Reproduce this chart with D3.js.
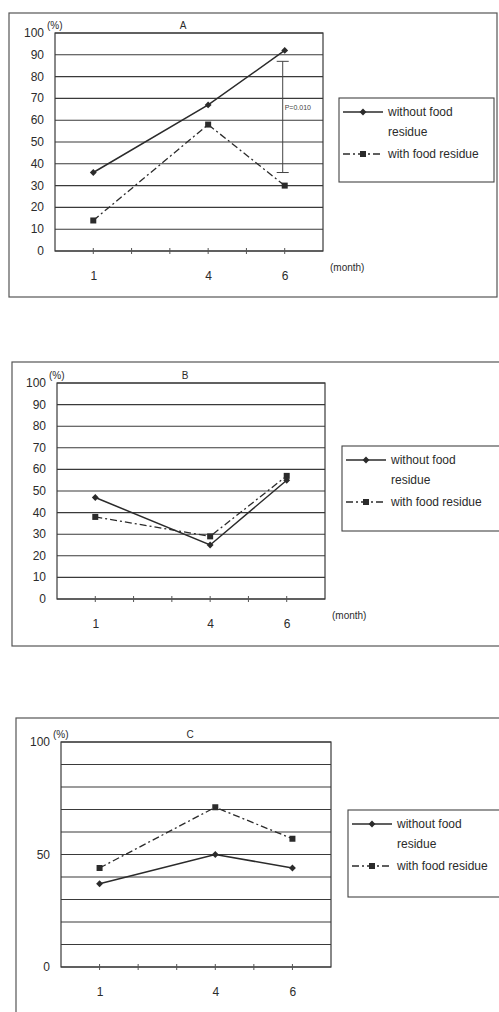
<!DOCTYPE html>
<html>
<head>
<meta charset="utf-8">
<script src="https://cdn.jsdelivr.net/npm/d3@7"></script>
<style>
  body { margin: 0; background: #fff; }
  svg { display: block; font-family: "Liberation Sans", Arial, sans-serif; }
</style>
</head>
<body>
<script>
// data
const months = [1, 2, 3, 4, 5, 6];
const monthLabels = ["1", "", "", "4", "", "6"];
const sampleMonths = [1, 4, 6];

const aWithout = [36, 67, 92];
const aWith = [14, 58, 30];
const bWithout = [47, 25, 55];
const bWith = [38, 29, 57];
const cWithout = [37, 50, 44];
const cWith = [44, 71, 57];

const gridTicks = [0, 10, 20, 30, 40, 50, 60, 70, 80, 90, 100];
const labelTicksC = [0, 50, 100];
const seriesNames = ["without food residue", "with food residue"];
const legendLines = [["without food", "residue"], ["with food residue"]];
const pValueA = { label: "P=0.010", month: 6, from: 36, to: 87 };

const width = 499, height = 1012;
const ink = "#2b2b2b";

const svg = d3.select("body").append("svg")
  .attr("width", width)
  .attr("height", height);

const panels = [
  { title: "A", without: aWithout, withRes: aWith, labels: gridTicks, monthText: true,
    frame: {x: 9, y: 13, w: 488, h: 284}, plot: {l: 55, t: 33, r: 323, b: 251},
    legend: {x: 339, y: 98, w: 155, h: 84}, pValue: pValueA },
  { title: "B", without: bWithout, withRes: bWith, labels: gridTicks, monthText: true,
    frame: {x: 12, y: 362, w: 495, h: 284}, plot: {l: 57, t: 383, r: 325, b: 599},
    legend: {x: 342, y: 446, w: 165, h: 85} },
  { title: "C", without: cWithout, withRes: cWith, labels: labelTicksC, monthText: false,
    frame: {x: 16, y: 718, w: 495, h: 320}, plot: {l: 61, t: 742, r: 331, b: 967},
    legend: {x: 348, y: 810, w: 160, h: 87} }
];

function marker(g, type, x, y) {
  if (type === 0) {
    g.append("path")
      .attr("d", d3.symbol(d3.symbolDiamond2, 30)())
      .attr("transform", `translate(${x},${y})`)
      .attr("fill", ink);
  } else {
    g.append("rect")
      .attr("x", x - 3).attr("y", y - 3)
      .attr("width", 6).attr("height", 6)
      .attr("fill", ink);
  }
}

panels.forEach(p => {
  const g = svg.append("g");
  const pl = p.plot;

  // outer frame
  g.append("rect")
    .attr("x", p.frame.x).attr("y", p.frame.y)
    .attr("width", p.frame.w).attr("height", p.frame.h)
    .attr("fill", "none").attr("stroke", "#555").attr("stroke-width", 1.2);

  const x = d3.scaleLinear().domain([0, 7]).range([pl.l, pl.r]);
  const y = d3.scaleLinear().domain([0, 100]).range([pl.b, pl.t]);

  // grid
  g.append("g").selectAll("line")
    .data(gridTicks)
    .join("line")
    .attr("x1", pl.l).attr("x2", pl.r)
    .attr("y1", d => y(d)).attr("y2", d => y(d))
    .attr("stroke", "#3a3a3a").attr("stroke-width", 1.1);

  g.append("rect")
    .attr("x", pl.l).attr("y", pl.t)
    .attr("width", pl.r - pl.l).attr("height", pl.b - pl.t)
    .attr("fill", "none").attr("stroke", "#3a3a3a").attr("stroke-width", 1.2);

  // y labels
  g.append("g").selectAll("text")
    .data(p.labels)
    .join("text")
    .attr("x", pl.l - 11)
    .attr("y", d => y(d) + 4)
    .attr("text-anchor", "end")
    .attr("font-size", 12)
    .attr("fill", ink)
    .text(d => d);

  g.append("text")
    .attr("x", pl.l - 8).attr("y", pl.t - 4)
    .attr("font-size", 10).attr("fill", ink)
    .text("(%)");

  g.append("text")
    .attr("x", (pl.l + pl.r) / 2 - 6).attr("y", pl.t - 4)
    .attr("text-anchor", "middle")
    .attr("font-size", 10).attr("fill", ink)
    .text(p.title);

  // x ticks and labels
  const xAxis = d3.axisBottom(x)
    .tickValues(months)
    .tickSize(0)
    .tickPadding(20)
    .tickFormat((d, i) => monthLabels[i]);
  const xg = g.append("g")
    .attr("transform", `translate(0,${pl.b})`)
    .attr("color", ink)
    .call(xAxis);
  xg.select(".domain").remove();
  xg.attr("font-size", 12).attr("font-family", "Liberation Sans, Arial, sans-serif");
  g.append("g").selectAll("line")
    .data(months)
    .join("line")
    .attr("x1", d => x(d)).attr("x2", d => x(d))
    .attr("y1", pl.b - 3).attr("y2", pl.b + 3)
    .attr("stroke", "#555").attr("stroke-width", 1);

  if (p.monthText) {
    g.append("text")
      .attr("x", pl.r + 7).attr("y", pl.b + 20)
      .attr("font-size", 10).attr("fill", ink)
      .text("(month)");
  }

  // series
  const line = d3.line()
    .x((d, i) => x(sampleMonths[i]))
    .y(d => y(d));

  g.append("path")
    .datum(p.withRes)
    .attr("d", line)
    .attr("fill", "none").attr("stroke", ink).attr("stroke-width", 1.3)
    .attr("stroke-dasharray", "7,3,2,3");
  g.append("path")
    .datum(p.without)
    .attr("d", line)
    .attr("fill", "none").attr("stroke", ink).attr("stroke-width", 1.5);

  p.without.forEach((v, i) => marker(g, 0, x(sampleMonths[i]), y(v)));
  p.withRes.forEach((v, i) => marker(g, 1, x(sampleMonths[i]), y(v)));

  // significance bracket
  if (p.pValue) {
    const bx = x(p.pValue.month) - 2;
    const bg = g.append("g").attr("stroke", "#444").attr("stroke-width", 1);
    bg.append("line").attr("x1", bx).attr("x2", bx)
      .attr("y1", y(p.pValue.to)).attr("y2", y(p.pValue.from));
    [p.pValue.to, p.pValue.from].forEach(v => {
      bg.append("line").attr("x1", bx - 6).attr("x2", bx + 6)
        .attr("y1", y(v)).attr("y2", y(v));
    });
    g.append("text")
      .attr("x", bx + 2).attr("y", y(60) - 10)
      .attr("font-size", 7).attr("fill", "#444")
      .text(p.pValue.label);
  }

  // legend
  const lg = p.legend;
  g.append("rect")
    .attr("x", lg.x).attr("y", lg.y)
    .attr("width", lg.w).attr("height", lg.h)
    .attr("fill", "#fff").attr("stroke", "#444").attr("stroke-width", 1.1);

  const rows = [lg.y + 14, lg.y + 56];
  seriesNames.forEach((name, k) => {
    const ry = rows[k];
    g.append("line")
      .attr("x1", lg.x + 4).attr("x2", lg.x + 44)
      .attr("y1", ry).attr("y2", ry)
      .attr("stroke", ink).attr("stroke-width", k === 0 ? 1.5 : 1.3)
      .attr("stroke-dasharray", k === 0 ? null : "7,3,2,3");
    marker(g, k, lg.x + 24, ry);
    legendLines[k].forEach((txt, j) => {
      g.append("text")
        .attr("x", lg.x + 49).attr("y", ry + 4 + j * 20)
        .attr("font-size", 12).attr("fill", ink)
        .text(txt);
    });
  });
});
</script>
</body>
</html>
